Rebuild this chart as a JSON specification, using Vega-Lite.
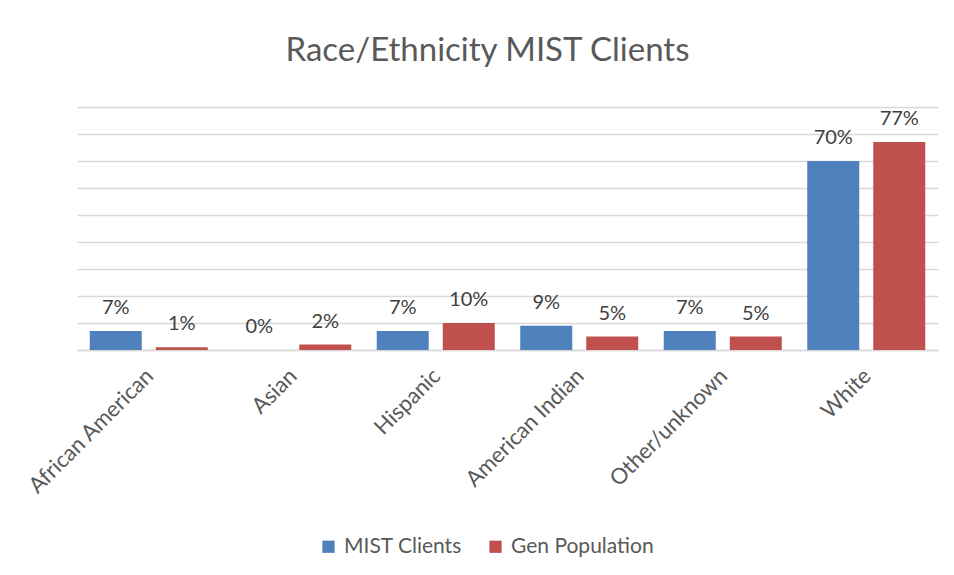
{
  "$schema": "https://vega.github.io/schema/vega-lite/v6.json",
  "width": 861,
  "height": 243,
  "autosize": "none",
  "padding": {"left": 77, "top": 107, "right": 16, "bottom": 225},
  "background": "white",
  "title": {"text": "Race/Ethnicity MIST Clients", "font": "Lato", "fontSize": 33, "fontWeight": "normal", "color": "#595959", "anchor": "middle", "dx": -20, "offset": 39},
  "data": {"values": [
    {"category": "African American", "series": "MIST Clients", "value": 0.07},
    {"category": "African American", "series": "Gen Population", "value": 0.01},
    {"category": "Asian", "series": "MIST Clients", "value": 0.0},
    {"category": "Asian", "series": "Gen Population", "value": 0.02},
    {"category": "Hispanic", "series": "MIST Clients", "value": 0.07},
    {"category": "Hispanic", "series": "Gen Population", "value": 0.10},
    {"category": "American Indian", "series": "MIST Clients", "value": 0.09},
    {"category": "American Indian", "series": "Gen Population", "value": 0.05},
    {"category": "Other/unknown", "series": "MIST Clients", "value": 0.07},
    {"category": "Other/unknown", "series": "Gen Population", "value": 0.05},
    {"category": "White", "series": "MIST Clients", "value": 0.70},
    {"category": "White", "series": "Gen Population", "value": 0.77}
  ]},
  "encoding": {
    "x": {"field": "category", "type": "nominal",
      "sort": ["African American", "Asian", "Hispanic", "American Indian", "Other/unknown", "White"],
      "scale": {"paddingInner": 0, "paddingOuter": 0},
      "axis": {"title": null, "labelAngle": -45, "labelFont": "Lato", "labelFontSize": 22, "labelColor": "#595959", "labelPadding": 15, "labelOffset": -6, "ticks": false, "domain": true, "domainColor": "#D9D9D9", "domainWidth": 1.5, "grid": false}},
    "xOffset": {"field": "series", "type": "nominal", "sort": ["MIST Clients", "Gen Population"],
      "scale": {"paddingInner": 0.212, "paddingOuter": 0.193}},
    "y": {"field": "value", "type": "quantitative",
      "scale": {"domain": [0, 0.9], "nice": false},
      "axis": {"title": null, "labels": false, "ticks": false, "domain": false, "values": [0, 0.1, 0.2, 0.3, 0.4, 0.5, 0.6, 0.7, 0.8, 0.9], "grid": true, "gridColor": "#D9D9D9", "gridWidth": 1.5}}
  },
  "layer": [
    {
      "mark": {"type": "bar"},
      "encoding": {
        "color": {"field": "series", "type": "nominal",
          "scale": {"domain": ["MIST Clients", "Gen Population"], "range": ["#4F81BD", "#C0504D"]},
          "legend": {"title": null, "orient": "none", "legendX": 241, "legendY": 429, "direction": "horizontal", "symbolType": "square", "symbolSize": 150, "symbolStrokeWidth": 0, "labelFont": "Lato", "labelFontSize": 21, "labelColor": "#595959", "columnPadding": 23, "labelOffset": 5}}
      }
    },
    {
      "mark": {"type": "text", "font": "Lato", "fontSize": 20, "color": "#404040", "baseline": "alphabetic", "dy": -17},
      "encoding": {
        "text": {"field": "value", "type": "quantitative", "format": ".0%"}
      }
    }
  ],
  "config": {"view": {"stroke": null}}
}
